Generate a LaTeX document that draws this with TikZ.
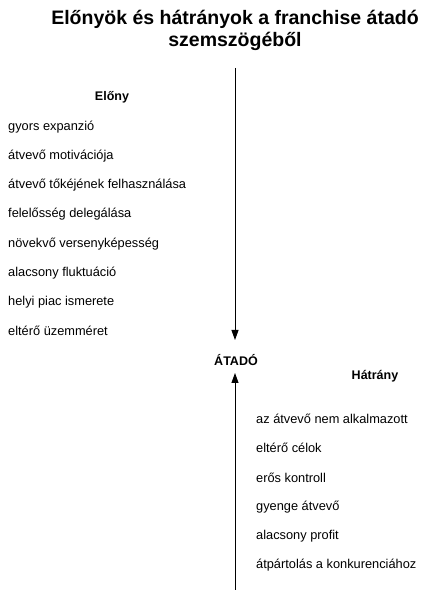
\documentclass[tikz,border=0pt]{standalone}
\usepackage{fontspec}
\setmainfont{Liberation Sans}
\usetikzlibrary{arrows.meta}
\begin{document}
\begin{tikzpicture}[x=1pt,y=1pt,
  title/.style={font=\fontsize{19.5}{22}\selectfont\bfseries, align=center},
  head/.style={font=\fontsize{12.5}{15}\selectfont\bfseries},
  item/.style={font=\fontsize{12.8}{15}\selectfont, anchor=west, inner sep=0pt},
  axis/.style={-{Triangle[length=10pt,width=7pt]}, line width=0.9pt}]
\useasboundingbox (0,0) rectangle (421,599);

% title
\node[title] (title) at (235,569) {Előnyök és hátrányok a franchise átadó\\szemszögéből};

% centre label and the two arrows meeting it
\node[head] (atado) at (236,239) {ÁTADÓ};
\coordinate (top) at (235,531);
\coordinate (bottom) at (235,9);
\draw[axis] (top) -- (235,259) coordinate (toptip);
\draw[axis] (bottom) -- (235,226) coordinate (bottomtip);

% advantages
\node[head] (elony) at (112,502) {Előny};
\node[item] (a1) at (8,472) {gyors expanzió};
\node[item] (a2) at (8,443) {átvevő motivációja};
\node[item] (a3) at (8,414) {átvevő tőkéjének felhasználása};
\node[item] (a4) at (8,385) {felelősség delegálása};
\node[item] (a5) at (8,355) {növekvő versenyképesség};
\node[item] (a6) at (8,326) {alacsony fluktuáció};
\node[item] (a7) at (8,297) {helyi piac ismerete};
\node[item] (a8) at (8,268) {eltérő üzemméret};

% disadvantages
\node[head] (hatrany) at (375,223) {Hátrány};
\node[item] (d1) at (256,180) {az átvevő nem alkalmazott};
\node[item] (d2) at (256,151) {eltérő célok};
\node[item] (d3) at (256,121) {erős kontroll};
\node[item] (d4) at (256,92) {gyenge átvevő};
\node[item] (d5) at (256,63) {alacsony profit};
\node[item] (d6) at (256,34) {átpártolás a konkurenciához};
\end{tikzpicture}
\end{document}
